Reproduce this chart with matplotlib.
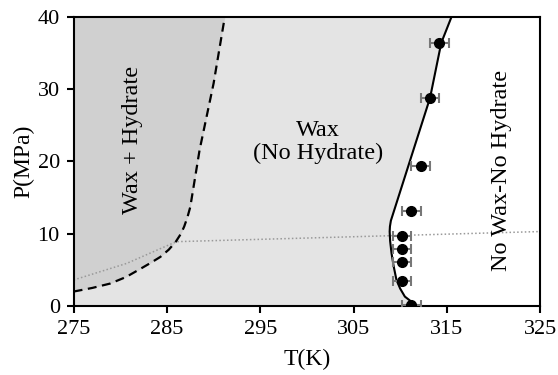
import matplotlib
matplotlib.use("Agg")
import matplotlib.pyplot as plt
import numpy as np

plt.rcParams['font.family'] = ['Liberation Serif', 'DejaVu Serif']

# Experimental points (wax appearance)
exp_T = [314.2, 313.2, 312.2, 311.2, 310.2, 310.2, 310.2, 310.2, 311.2]
exp_P = [36.4, 28.8, 19.4, 13.2, 9.7, 7.9, 6.1, 3.4, 0.1]
exp_Terr = [1.0] * len(exp_T)

# Wax boundary (solid)
wax_P = [0.0, 0.6, 1.3, 2.4, 3.6, 5.5, 7.3, 9.0, 10.3, 11.0, 11.8, 28.8, 36.4, 40.0]
wax_T = [311.9, 311.2, 310.5, 310.0, 309.6, 309.3, 309.07, 308.92, 308.87, 308.9, 309.0, 313.2, 314.4, 315.5]

# Hydrate boundary (dashed)
hyd_P = [2.0, 2.5, 3.1, 4.0, 5.1, 6.0, 6.8, 7.8, 8.9, 10.0, 11.0, 12.3, 13.7, 21.6, 30.8, 40.0]
hyd_T = [275.0, 277.0, 278.9, 280.6, 282.1, 283.3, 284.3, 285.2, 285.95, 286.5, 286.85, 287.2, 287.5, 288.5, 290.0, 291.2]

# Dotted line
dot_T = [275.0, 280.7, 286.0, 325.0]
dot_P = [3.6, 5.9, 8.9, 10.3]

fig = plt.figure(figsize=(5.58, 3.75), dpi=100)
ax = fig.add_axes([0.132, 0.184, 0.836, 0.771])

light = '#e4e4e4'
dark = '#d0d0d0'

ax.fill_betweenx(wax_P, 275, wax_T, color=light, lw=0, zorder=0)
ax.fill_betweenx(hyd_P, 275, hyd_T, color=dark, lw=0, zorder=0.5)

ax.plot(dot_T, dot_P, color='#999999', lw=1.1, ls=(0, (1, 1.5)), zorder=1)
ax.plot(hyd_T, hyd_P, color='black', lw=1.6, ls=(0, (4, 2.5)), zorder=2)
ax.plot(wax_T, wax_P, color='black', lw=1.5, zorder=2)

ax.errorbar(exp_T, exp_P, xerr=exp_Terr, fmt='o', color='black', ms=7,
            ecolor='#777777', elinewidth=1.5, capsize=3.5, capthick=1.5, zorder=3)

ax.set_xlim(275, 325)
ax.set_ylim(0, 40)
ax.set_xticks([275, 285, 295, 305, 315, 325])
ax.set_yticks([0, 10, 20, 30, 40])
ax.tick_params(direction='out', length=5, width=1.5, labelsize=16, pad=5)
for s in ax.spines.values():
    s.set_linewidth(1.5)

ax.set_xlabel('T(K)', fontsize=17, labelpad=7)
ax.set_ylabel('P(MPa)', fontsize=17, labelpad=2)

ax.text(281.3, 23.0, 'Wax + Hydrate', rotation=90, ha='center', va='center', fontsize=17.5)
ax.text(301.2, 22.7, 'Wax\n(No Hydrate)', ha='center', va='center', fontsize=17.5,
        linespacing=1.1)
ax.text(320.9, 18.7, 'No Wax-No Hydrate', rotation=90, ha='center', va='center', fontsize=17.5)

fig.savefig('out.png', dpi=100)
